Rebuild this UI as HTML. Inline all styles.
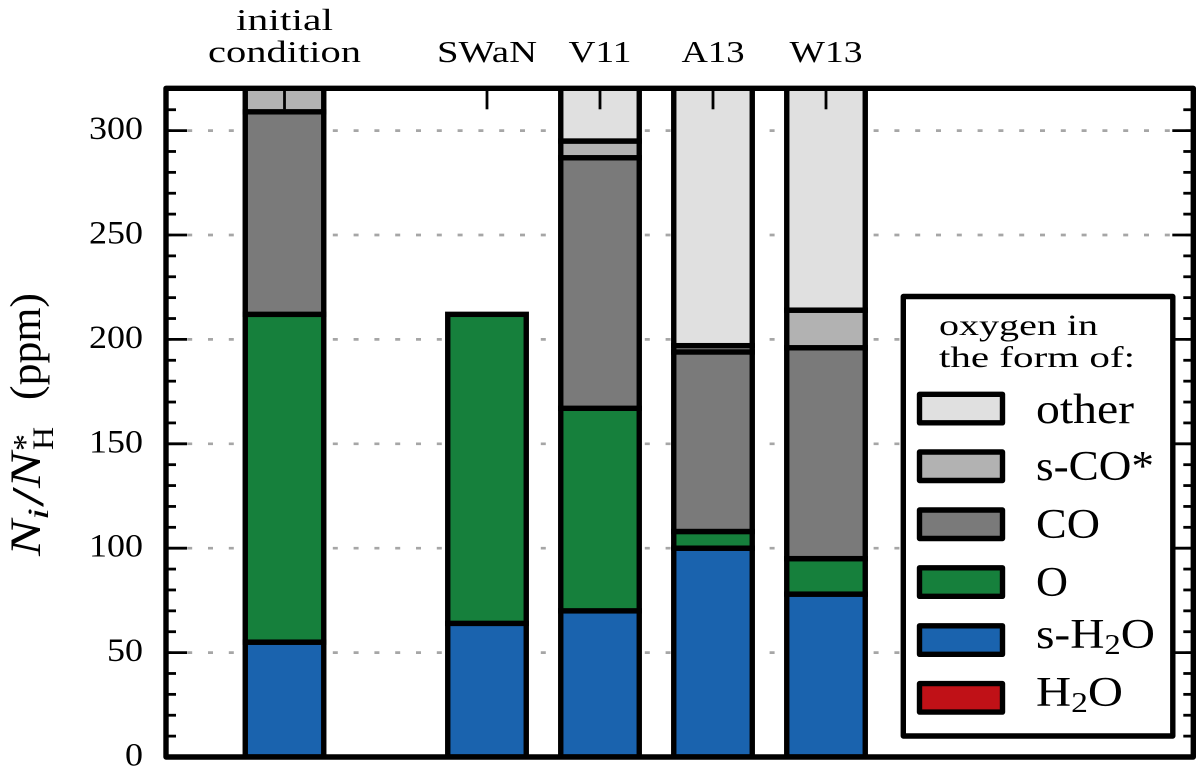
<!DOCTYPE html>
<html lang="en">
<head>
<meta charset="utf-8">
<title>Oxygen budget stacked bar chart</title>
<style>
  html, body { margin: 0; padding: 0; background: #fff; }
  body { width: 1200px; height: 768px; overflow: hidden; }
  svg { display: block; }
  text { font-family: "Liberation Serif", serif; fill: #000; }
</style>
</head>
<body>
<svg id="chart" xmlns="http://www.w3.org/2000/svg" width="1200" height="768" viewBox="0 0 1200 768">
  <defs>
    <clipPath id="plot-clip"><rect x="166" y="88" width="1027" height="669"></rect></clipPath>
  </defs>
  <rect x="0" y="0" width="1200" height="768" fill="#fff"></rect>
  <g id="grid"></g>
  <g id="bars" clip-path="url(#plot-clip)"></g>
  <g id="ticks"></g>
  <path d="M166 88.3H1193.3V757H166Z" fill="none" stroke="#000" stroke-width="5.4" stroke-linejoin="round"></path>
  <g id="tick-labels"></g>
  <g id="category-labels"></g>

  <g>
    <text transform="translate(40 556) rotate(-90)" font-size="43" font-style="italic" textLength="36" lengthAdjust="spacingAndGlyphs">N</text>
    <text transform="translate(48 520) rotate(-90)" font-size="30" font-style="italic" textLength="12" lengthAdjust="spacingAndGlyphs">i</text>
    <text transform="translate(43 507) rotate(-90)" font-size="46" textLength="20" lengthAdjust="spacingAndGlyphs">/</text>
    <text transform="translate(40 488) rotate(-90)" font-size="43" font-style="italic" textLength="36" lengthAdjust="spacingAndGlyphs">N</text>
    <text transform="translate(36 451) rotate(-90)" font-size="34">*</text>
    <text transform="translate(53 450) rotate(-90)" font-size="30" textLength="23" lengthAdjust="spacingAndGlyphs">H</text>
    <text transform="translate(40 400) rotate(-90)" font-size="43" textLength="107" lengthAdjust="spacingAndGlyphs">(ppm)</text>
  </g>

  <g>
    <rect x="903.3" y="296.5" width="269.5" height="439.5" fill="#fff" stroke="#000" stroke-width="5.4" stroke-linejoin="round"></rect>
    <text x="939" y="335" font-size="30" textLength="159" lengthAdjust="spacingAndGlyphs">oxygen in</text>
    <text x="939" y="367" font-size="30" textLength="196" lengthAdjust="spacingAndGlyphs">the form of:</text>

    <g>
      <rect x="919.5" y="394.3" width="83" height="28.5" fill="#e0e0e0" stroke="#000" stroke-width="5.4" stroke-linejoin="round"></rect>
      <text x="1036" y="423" font-size="42" textLength="98" lengthAdjust="spacingAndGlyphs">other</text>
    </g>
    <g>
      <rect x="919.5" y="452" width="83" height="28.5" fill="#b2b2b2" stroke="#000" stroke-width="5.4" stroke-linejoin="round"></rect>
      <text x="1036" y="480" font-size="42" textLength="118" lengthAdjust="spacingAndGlyphs">s-CO*</text>
    </g>
    <g>
      <rect x="919.5" y="510" width="83" height="28.5" fill="#7a7a7a" stroke="#000" stroke-width="5.4" stroke-linejoin="round"></rect>
      <text x="1036" y="538" font-size="42" textLength="64" lengthAdjust="spacingAndGlyphs">CO</text>
    </g>
    <g>
      <rect x="919.5" y="567.8" width="83" height="28.5" fill="#16803c" stroke="#000" stroke-width="5.4" stroke-linejoin="round"></rect>
      <text x="1036" y="596" font-size="42" textLength="32" lengthAdjust="spacingAndGlyphs">O</text>
    </g>
    <g>
      <rect x="919.5" y="625.8" width="83" height="28.5" fill="#1a63ae" stroke="#000" stroke-width="5.4" stroke-linejoin="round"></rect>
      <text x="1036" y="648" font-size="42" textLength="119" lengthAdjust="spacingAndGlyphs">s-H<tspan font-size="29" dy="6">2</tspan><tspan dy="-6">O</tspan></text>
    </g>
    <g>
      <rect x="919.5" y="683.6" width="83" height="28.5" fill="#c01117" stroke="#000" stroke-width="5.4" stroke-linejoin="round"></rect>
      <text x="1036" y="706" font-size="42" textLength="87" lengthAdjust="spacingAndGlyphs">H<tspan font-size="29" dy="6">2</tspan><tspan dy="-6">O</tspan></text>
    </g>
  </g>
</svg>

<script>
// Chart data
const categories = ['initial condition', 'SWaN', 'V11', 'A13', 'W13'];
const categorySlots = [-1.792, 0, 1, 2, 3];
const speciesNames = ['H2O', 's-H2O', 'O', 'CO', 's-CO', 'other'];
const h2oValues = [0, 0, 0, 0, 0];
const sH2oValues = [55, 64, 70, 100, 78];
const oValues = [157, 148, 97, 8, 17];
const coValues = [97, 0, 120, 86, 101];
const sCoValues = [20, 0, 8, 3, 18];
const otherValues = [0, 0, 60, 160, 140];
const yMajorTicks = [0, 50, 100, 150, 200, 250, 300];
const yMinorTicks = [10, 20, 30, 40, 60, 70, 80, 90, 110, 120, 130, 140, 160, 170, 180, 190, 210, 220, 230, 240, 260, 270, 280, 290, 310];
const seriesValues = [h2oValues, sH2oValues, oValues, coValues, sCoValues, otherValues];
const seriesColors = ['#c01117', '#1a63ae', '#16803c', '#7a7a7a', '#b2b2b2', '#e0e0e0'];

const SVG_NS = 'http://www.w3.org/2000/svg';
const plotLeft = 166;
const plotRight = 1193.3;
const plotTop = 88.3;
const yZero = 757;
const yPerUnit = 2.088;
const slotOrigin = 487;
const slotWidth = 113;
const barWidth = 78.5;

function yScale(value) {
  return yZero - value * yPerUnit;
}
function xScale(slot) {
  return slotOrigin + slot * slotWidth;
}
function slug(text) {
  return text.toLowerCase().replace(/[^a-z0-9]+/g, '-');
}
function make(parent, tag, attrs) {
  const el = document.createElementNS(SVG_NS, tag);
  Object.keys(attrs).forEach(function (key) { el.setAttribute(key, attrs[key]); });
  parent.appendChild(el);
  return el;
}

const gridGroup = document.getElementById('grid');
const barsGroup = document.getElementById('bars');
const ticksGroup = document.getElementById('ticks');
const tickLabelGroup = document.getElementById('tick-labels');
const categoryGroup = document.getElementById('category-labels');

yMajorTicks.forEach(function (tick) {
  if (tick !== 0) {
    const grid = make(gridGroup, 'line', { x1: plotLeft + 0.4, x2: plotRight, y1: yScale(tick), y2: yScale(tick), stroke: '#a6a6a6', 'stroke-width': 2.7, 'stroke-dasharray': '5 15.8' });
    
    
  }
  const left = make(ticksGroup, 'line', { x1: plotLeft, x2: plotLeft + 21, y1: yScale(tick), y2: yScale(tick), stroke: '#000', 'stroke-width': 2.8 });
  
  
  const right = make(ticksGroup, 'line', { x1: plotRight - 21, x2: plotRight, y1: yScale(tick), y2: yScale(tick), stroke: '#000', 'stroke-width': 2.8 });
  
  
  const label = make(tickLabelGroup, 'text', { x: 143, y: yScale(tick) + 8.5, 'font-size': 33, 'text-anchor': 'end', textLength: String(tick).length * 18, lengthAdjust: 'spacingAndGlyphs' });
  
  
  label.textContent = String(tick);
});

yMinorTicks.forEach(function (tick) {
  const left = make(ticksGroup, 'line', { x1: plotLeft, x2: plotLeft + 10, y1: yScale(tick), y2: yScale(tick), stroke: '#000', 'stroke-width': 2.8 });
  
  
  const right = make(ticksGroup, 'line', { x1: plotRight - 10, x2: plotRight, y1: yScale(tick), y2: yScale(tick), stroke: '#000', 'stroke-width': 2.8 });
  
  
});

categories.forEach(function (category, i) {
  const cx = xScale(categorySlots[i]);
  let base = 0;
  seriesValues.forEach(function (values, s) {
    const value = values[i];
    if (value > 0) {
      const top = base + value;
      const bar = make(barsGroup, 'rect', { x: cx - barWidth / 2, y: yScale(top), width: barWidth, height: value * yPerUnit, fill: seriesColors[s], stroke: '#000', 'stroke-width': 5.4 });
      
      
      base = top;
    }
  });
  const topTick = make(ticksGroup, 'line', { x1: cx, x2: cx, y1: plotTop, y2: plotTop + 21, stroke: '#000', 'stroke-width': 2.8 });
  
  
});

const categoryWidths = [null, 100, 63, 63, 73];
categories.forEach(function (category, i) {
  const cx = xScale(categorySlots[i]);
  if (category === 'initial condition') {
    const lineOne = make(categoryGroup, 'text', { x: cx, y: 30, 'font-size': 31, 'text-anchor': 'middle', textLength: 97, lengthAdjust: 'spacingAndGlyphs' });
    
    
    lineOne.textContent = 'initial';
    const lineTwo = make(categoryGroup, 'text', { x: cx, y: 62, 'font-size': 31, 'text-anchor': 'middle', textLength: 153, lengthAdjust: 'spacingAndGlyphs' });
    
    
    lineTwo.textContent = 'condition';
  } else {
    const label = make(categoryGroup, 'text', { x: cx, y: 62, 'font-size': 31, 'text-anchor': 'middle', textLength: categoryWidths[i], lengthAdjust: 'spacingAndGlyphs' });
    
    
    label.textContent = category;
  }
});
</script>
</body>
</html>
